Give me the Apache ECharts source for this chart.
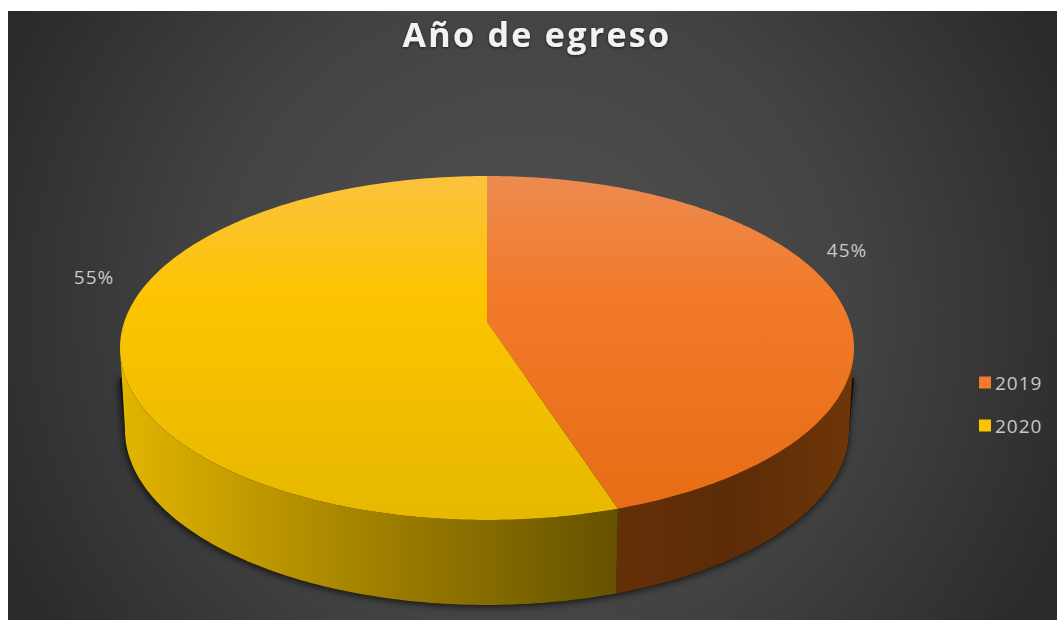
<!DOCTYPE html>
<html>
<head>
<meta charset="utf-8">
<style>
  html, body { margin: 0; padding: 0; background: #fff; }
  #chart { width: 1057px; height: 620px; }
  /* Tracking for the chart text; the title is opened up further */
  #chart text { letter-spacing: 1px; }
  #chart text[style*="34px"] { letter-spacing: 2.3px; }
</style>
<script src="https://cdn.jsdelivr.net/npm/echarts@6/dist/echarts.min.js"></script>
</head>
<body>
<div id="chart"></div>
<script>
// Graduation year shares
const years = ['2019', '2020'];
const shares = [45, 55];
const chartTitle = 'Año de egreso';

const G = echarts.graphic;

// Upper face of the disc seen in perspective: outer ellipse, and the point
// where the disc's centre lands on screen.
const face = { cx: 487, cy: 348, rx: 367, ry: 172, hubY: 322 };
// Lower rim of the disc
const base = { cx: 487, cy: 430, rx: 362, ry: 175 };

// Homography from the unit circle to the upper face
const yTop = face.cy - face.ry, yBot = face.cy + face.ry;
const persp = (2 * face.hubY - yTop - yBot) / (yTop - yBot);
const slope = yTop + yTop * persp - face.hubY;
const hScale = face.rx * Math.sqrt(1 - persp * persp);

function rimPoint(deg) {
  const a = deg * Math.PI / 180;
  const u = Math.sin(a), v = Math.cos(a);
  const d = 1 + persp * v;
  return [face.cx + hScale * u / d, (slope * v + face.hubY) / d];
}
function lowerPoint(p) {
  const c = (p[0] - face.cx) / face.rx, s = (p[1] - face.cy) / face.ry;
  return [base.cx + base.rx * c, base.cy + base.ry * s];
}
function arc(from, to) {
  const pts = [];
  const n = Math.max(2, Math.ceil(to - from));
  for (let i = 0; i <= n; i++) pts.push(rimPoint(from + (to - from) * i / n));
  return pts;
}
// Part of a rim arc that faces the viewer, ending on the ellipse's side extremes
function frontOf(rim) {
  const front = rim.filter(p => p[1] >= face.cy);
  const extreme = p => [face.cx + Math.sign(p[0] - face.cx) * face.rx, face.cy];
  if (rim[0][1] < face.cy) front.unshift(extreme(front[0]));
  if (rim[rim.length - 1][1] < face.cy) front.push(extreme(front[front.length - 1]));
  return front;
}

const backdrop = new G.RadialGradient(530, 310, 590, [
  { offset: 0, color: '#525252' },
  { offset: 0.55, color: '#434343' },
  { offset: 1, color: '#2a2a2a' }
], true);

const faceFill = [
  new G.LinearGradient(0, yTop, 0, yBot, [
    { offset: 0, color: '#ec8b50' },
    { offset: 0.34, color: '#f27a2a' },
    { offset: 1, color: '#e66c14' }
  ], true),
  new G.LinearGradient(0, yTop, 0, yBot, [
    { offset: 0, color: '#fbc23e' },
    { offset: 0.36, color: '#fcc400' },
    { offset: 1, color: '#e6b800' }
  ], true)
];
const wallFill = [
  new G.LinearGradient(610, 0, 850, 0, [
    { offset: 0, color: '#643007' },
    { offset: 0.5, color: '#5c2b08' },
    { offset: 1, color: '#6e3608' }
  ], true),
  new G.LinearGradient(120, 0, 612, 0, [
    { offset: 0, color: '#e2b500' },
    { offset: 0.45, color: '#a98700' },
    { offset: 1, color: '#665200' }
  ], true)
];
const legendColor = ['#f27a2a', '#fcc400'];

// Percentage labels sit just outside the rim, measured from each slice's mid-angle
const labelShift = [[10, -46], [-26, -72]];

function renderSlice(index) {
  return function (params, api) {
    const start = api.value(0), end = api.value(1);
    const rim = arc(start, end);
    const front = frontOf(rim);
    const low = front.map(lowerPoint).reverse();
    const hub = [face.cx, face.hubY];
    const mid = rimPoint((start + end) / 2);
    const children = [];
    if (index === 0) {
      // Dark contact shadow below the disc
      const silhouette = frontOf(arc(90, 270)).map(lowerPoint)
        .concat([[face.cx - face.rx, face.cy + 30], [face.cx + face.rx, face.cy + 30]]);
      children.push({
        type: 'polygon', z2: 0,
        shape: { points: silhouette },
        style: { fill: '#0a0a0a', shadowBlur: 9, shadowColor: 'rgba(0,0,0,0.85)', shadowOffsetX: -1, shadowOffsetY: 1 }
      });
    }
    children.push({
      type: 'polygon', z2: 1,
      shape: { points: front.concat(low) },
      style: { fill: wallFill[index] }
    });
    children.push({
      type: 'polygon', z2: 2,
      shape: { points: [hub].concat(rim) },
      style: { fill: faceFill[index] }
    });
    children.push({
      type: 'text', z2: 3,
      x: mid[0] + labelShift[index][0],
      y: mid[1] + labelShift[index][1],
      style: {
        text: api.value(2) + '%',
        fill: '#c9c9c9',
        font: '19px "Open Sans"',
        align: 'center',
        verticalAlign: 'middle'
      }
    });
    return { type: 'group', children };
  };
}

let acc = 0;
const total = shares.reduce((a, b) => a + b, 0);
const series = years.map((year, i) => {
  const start = acc / total * 360;
  acc += shares[i];
  return {
    type: 'custom',
    name: year,
    coordinateSystem: 'none',
    clip: false,
    silent: true,
    itemStyle: { color: legendColor[i] },
    data: [[start, acc / total * 360, shares[i]]],
    renderItem: renderSlice(i)
  };
});

const chart = echarts.init(document.getElementById('chart'), null, { renderer: 'svg' });
chart.setOption({
  animation: false,
  backgroundColor: '#ffffff',
  graphic: [{
    type: 'rect', z: -10, silent: true,
    shape: { x: 8, y: 11, width: 1049, height: 609 },
    style: { fill: backdrop }
  }],
  title: {
    text: chartTitle,
    left: 532,
    top: 12,
    textAlign: 'center',
    textStyle: {
      color: '#f2f2f2',
      fontFamily: '"Open Sans"',
      fontWeight: 'bold',
      fontSize: 34,
      textShadowColor: 'rgba(0,0,0,0.6)',
      textShadowBlur: 3,
      textShadowOffsetY: 1
    }
  },
  legend: {
    orient: 'vertical',
    left: 979,
    top: 373,
    padding: 0,
    icon: 'rect',
    itemWidth: 12,
    itemHeight: 12,
    itemGap: 24,
    selectedMode: false,
    data: years,
    textStyle: { color: '#c9c9c9', fontFamily: '"Open Sans"', fontSize: 19, padding: [0, 0, 0, -1] }
  },
  series
});
</script>
</body>
</html>
